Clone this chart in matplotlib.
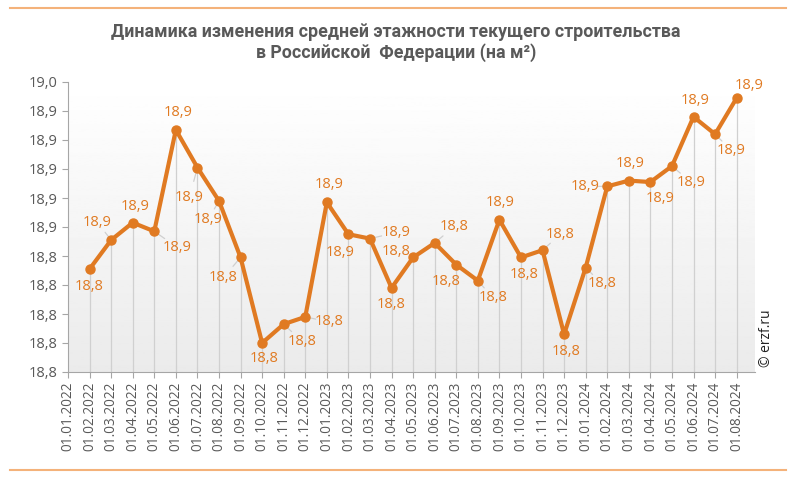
import matplotlib
matplotlib.use("Agg")
import matplotlib.pyplot as plt
import numpy as np
from matplotlib.lines import Line2D

plt.rcParams['font.family'] = ['Open Sans', 'DejaVu Sans']

tick_labels = ["01.01.2022", "01.02.2022", "01.03.2022", "01.04.2022", "01.05.2022", "01.06.2022",
               "01.07.2022", "01.08.2022", "01.09.2022", "01.10.2022", "01.11.2022", "01.12.2022",
               "01.01.2023", "01.02.2023", "01.03.2023", "01.04.2023", "01.05.2023", "01.06.2023",
               "01.07.2023", "01.08.2023", "01.09.2023", "01.10.2023", "01.11.2023", "01.12.2023",
               "01.01.2024", "01.02.2024", "01.03.2024", "01.04.2024", "01.05.2024", "01.06.2024",
               "01.07.2024", "01.08.2024"]
values = [18.831, 18.851, 18.863, 18.857, 18.927, 18.901, 18.878, 18.839, 18.780, 18.793, 18.798,
          18.877, 18.855, 18.852, 18.818, 18.839, 18.849, 18.834, 18.823, 18.865, 18.839, 18.844,
          18.786, 18.832, 18.888, 18.892, 18.891, 18.902, 18.936, 18.924, 18.949]
y_ticks = [18.76, 18.78, 18.80, 18.82, 18.84, 18.86, 18.88, 18.90, 18.92, 18.94, 18.96]

# label offsets in pixels (dx, dy) relative to each point; dy positive = up
label_offsets = [(0, -17), (-14, 18), (2, 16), (23, -16), (2, 17), (-8, -30), (-11, -19), (-17, -20),
                 (2, -16), (18, -17), (24, -5), (2, 18), (-8, -18), (26, 6), (0, -17), (-17, 6),
                 (19, 16), (-10, -17), (15, -17), (1, 17), (3, -17), (18, 16), (2, -17), (16, -16),
                 (-22, 0), (1, 17), (10, -16), (19, -16), (2, 16), (16, -16), (12, 12)]

orange = "#E07A22"
grey_text = "#595959"

fig = plt.figure(figsize=(8, 4.79), dpi=100)
ax = fig.add_axes([68/800, 1-372/479, (755-68)/800, (372-82)/479])

x = np.arange(1, len(values) + 1)
xlim = (0, 31.85)
ax.set_xlim(*xlim)
ax.set_ylim(y_ticks[0], y_ticks[-1])

# gradient background
grad = np.linspace(1.0, 0.92, 256).reshape(-1, 1)
ax.imshow(grad, extent=[xlim[0], xlim[1], y_ticks[0], y_ticks[-1]], aspect='auto',
          cmap='gray', vmin=0, vmax=1, zorder=0, origin='upper')

# drop lines
ax.vlines(x, y_ticks[0], values, color="#d0d0d0", lw=0.9, zorder=1)

ax.plot(x, values, color=orange, lw=3.0, marker='o', ms=6.5, zorder=3, solid_capstyle='round')

for xi, v, (dx, dy) in zip(x, values, label_offsets):
    txt = f"{v:.1f}".replace(".", ",")
    dist = (dx**2 + dy**2) ** 0.5
    ax.annotate(txt, (xi, v), xytext=(dx, dy), textcoords='offset pixels',
                ha='center', va='center', color=orange, fontsize=10.5, zorder=4)
    if dist > 20:
        f = 0.55
        ax.annotate("", (xi, v), xytext=(dx * f, dy * f), textcoords='offset pixels',
                    arrowprops=dict(arrowstyle='-', color="#cfcfcf", lw=0.9), zorder=2)

ax.set_yticks(y_ticks)
ax.set_yticklabels([f"{t:.1f}".replace(".", ",") for t in y_ticks], color=grey_text, fontsize=10.5)
ax.set_xticks(np.arange(0, len(tick_labels)))
ax.set_xticklabels(tick_labels, rotation=90, color=grey_text, fontsize=9.8)
for s in ['top', 'right']:
    ax.spines[s].set_visible(False)
for s in ['left', 'bottom']:
    ax.spines[s].set_color("#a6a6a6")
ax.tick_params(axis='both', colors="#a6a6a6", length=4, width=0.8, labelcolor=grey_text)
ax.tick_params(axis='x', pad=3)

fig.text(0.495, 1-32/479, "Динамика изменения средней этажности текущего строительства",
         ha='center', va='center', fontsize=12.8, fontweight='bold', color=grey_text,
         family=['Roboto', 'DejaVu Sans'])
fig.text(0.495, 1-53/479, "в Российской  Федерации (на м²)",
         ha='center', va='center', fontsize=12.8, fontweight='bold', color=grey_text,
         family=['Roboto', 'DejaVu Sans'])

fig.text(766/800, 1-338/479, "© erzf.ru", rotation=90, ha='center', va='center',
         fontsize=10, color="#222222")

fig.add_artist(Line2D([10/800, 786/800], [1-8/479, 1-8/479], color="#F4B27A", lw=1.5))
fig.add_artist(Line2D([10/800, 786/800], [1-470/479, 1-470/479], color="#F4B27A", lw=1.5))

fig.savefig("out.png", dpi=100)
